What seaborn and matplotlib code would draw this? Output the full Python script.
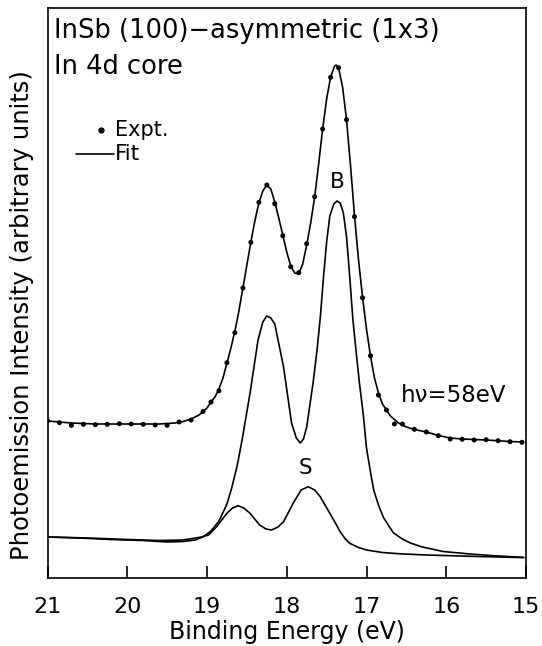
import matplotlib
matplotlib.use("Agg")
import matplotlib.pyplot as plt
import seaborn as sns
import pandas as pd

# ---------------- data ----------------
# experimental points: binding energy (eV) and intensity (arb. units)
expt_E = [21.00, 20.85, 20.70, 20.55, 20.40, 20.25, 20.10, 19.95, 19.80, 19.65,
          19.50, 19.35, 19.20, 19.05, 18.95, 18.85, 18.75, 18.65, 18.55, 18.45,
          18.35, 18.25, 18.15, 18.05, 17.95, 17.85, 17.75, 17.65, 17.55, 17.45,
          17.35, 17.25, 17.15, 17.05, 16.95, 16.85, 16.75, 16.65, 16.55, 16.40,
          16.25, 16.10, 15.95, 15.80, 15.65, 15.50, 15.35, 15.20, 15.05]
expt_I = [157.3, 155.3, 152.7, 153.7, 153.3, 153.7, 154.3, 154.0, 153.7, 153.0,
          152.7, 156.0, 158.0, 166.5, 176.0, 187.3, 215.3, 245.3, 290.0, 335.7,
          375.7, 393.0, 374.3, 342.3, 311.3, 305.3, 334.3, 381.3, 449.0, 500.7,
          510.3, 458.3, 361.3, 280.3, 222.3, 183.0, 168.0, 154.0, 154.0, 148.7,
          146.0, 142.3, 139.0, 138.7, 138.0, 138.3, 137.3, 136.3, 135.7]

# total fit curve
fit_E = [21.0, 20.7, 20.4, 20.0, 19.6, 19.4, 19.3, 19.2, 19.1, 19.0, 18.95, 18.9,
         18.85, 18.8, 18.75, 18.7, 18.65, 18.6, 18.55, 18.5, 18.45, 18.4, 18.35,
         18.3, 18.25, 18.2, 18.15, 18.1, 18.05, 18.0, 17.95, 17.9, 17.85, 17.8,
         17.75, 17.7, 17.65, 17.6, 17.55, 17.5, 17.45, 17.4, 17.38, 17.35, 17.3,
         17.25, 17.2, 17.15, 17.1, 17.05, 17.0, 16.95, 16.9, 16.85, 16.8, 16.7,
         16.6, 16.5, 16.4, 16.25, 16.1, 15.95, 15.8, 15.5, 15.2, 15.04]
fit_I = [157, 155, 154, 154, 154, 155, 156.5, 159, 163, 170, 176, 181,
         189, 200, 215, 230, 247, 267, 290, 313, 336, 357, 375,
         387, 393, 389, 376, 360, 343, 326, 312, 305, 304, 314,
         333, 355, 381, 414, 449, 479, 501, 512, 513, 510, 491,
         458, 412, 362, 318, 281, 249, 222, 200, 185, 174, 162,
         155, 151, 148.5, 146, 142.5, 140, 139, 138, 136.5, 136]

# bulk component (B) + background
bulk_E = [21.0, 20.6, 20.2, 19.8, 19.5, 19.3, 19.15, 19.05, 18.95, 18.85, 18.75,
          18.69, 18.62, 18.56, 18.46, 18.36, 18.30, 18.25, 18.20, 18.15, 18.04,
          17.94, 17.88, 17.83, 17.79, 17.75, 17.67, 17.62, 17.58, 17.54, 17.50,
          17.46, 17.41, 17.37, 17.33, 17.29, 17.25, 17.21, 17.17, 17.13, 17.09,
          17.04, 17.00, 16.95, 16.91, 16.85, 16.79, 16.72, 16.66, 16.55, 16.45,
          16.30, 16.04, 15.70, 15.41, 15.03]
bulk_I = [41, 40, 38.5, 37.5, 36, 36.5, 38, 41, 47, 57, 74,
          90, 113, 138, 185, 238, 256, 262, 260, 254, 211,
          155, 140, 135, 139, 151, 195, 228, 260, 300, 336,
          362, 374, 377, 375, 365, 341, 301, 258, 226, 196,
          163, 130, 106, 88, 73, 61, 52, 45, 39, 35,
          31, 26.5, 24, 22.3, 20.6]

# surface component (S) + background
surf_E = [21.0, 20.5, 20.0, 19.6, 19.30, 19.09, 18.98, 18.88, 18.75, 18.68,
          18.61, 18.54, 18.46, 18.34, 18.26, 18.19, 18.11, 18.04, 17.92, 17.82,
          17.73, 17.65, 17.58, 17.46, 17.39, 17.33, 17.27, 17.21, 17.10, 17.00,
          16.80, 16.58, 16.25, 15.60, 15.03]
surf_I = [41, 40, 38.5, 37.5, 38, 40.7, 43, 51.3, 64.7, 70,
          72.3, 70, 64.7, 53, 49, 48, 51, 56.3, 74.7, 88,
          91.3, 88, 81.3, 64.7, 55, 46.3, 39.5, 34.7, 30.5, 28,
          25.5, 24.2, 23.0, 21.5, 20.4]

x_ticks = [21, 20, 19, 18, 17, 16, 15]
x_tick_labels = ["21", "20", "19", "18", "17", "16", "15"]

# ---------------- figure ----------------
sns.set_theme(style="white")
plt.rcParams["font.family"] = ["DejaVu Sans"]
plt.rcParams["text.color"] = "black"
plt.rcParams["axes.labelcolor"] = "black"
plt.rcParams["xtick.color"] = "black"

fig = plt.figure(figsize=(5.42, 6.46), dpi=100)
ax = fig.add_axes([47.5 / 542, 68 / 646, 478.5 / 542, 570 / 646])

df_expt = pd.DataFrame({"E": expt_E, "I": expt_I})
df_fit = pd.DataFrame({"E": fit_E, "I": fit_I})
df_bulk = pd.DataFrame({"E": bulk_E, "I": bulk_I})
df_surf = pd.DataFrame({"E": surf_E, "I": surf_I})

lw = 1.2
for d in (df_fit, df_bulk, df_surf):
    sns.lineplot(data=d, x="E", y="I", ax=ax, color="black", lw=lw,
                 estimator=None, sort=False)
sns.scatterplot(data=df_expt, x="E", y="I", ax=ax, color="black", s=13,
                edgecolor="none", zorder=5)

ax.set_xlim(21, 15)
ax.set_ylim(0, 570)
ax.set_xticks(x_ticks)
ax.set_xticklabels(x_tick_labels, fontsize=16, color="black")
ax.set_yticks([])
ax.tick_params(axis="x", direction="in", length=9, width=1.2, pad=14,
               colors="black", bottom=True)
for sp in ax.spines.values():
    sp.set_color("black")
    sp.set_linewidth(1.2)

ax.set_xlabel("Binding Energy (eV)", fontsize=17, labelpad=2, color="black")
ax.set_ylabel("Photoemission Intensity (arbitrary units)", fontsize=17.5,
              color="black")

def fx(px):
    return (px - 47.5) / 478.5

def fy(py):
    return (578 - py) / 570

ax.yaxis.set_label_coords(fx(34), fy(315))

tf = ax.transAxes
ax.text(fx(54), fy(31), "InSb (100)\u2212asymmetric (1x3)", transform=tf,
        fontsize=18.5, ha="left", va="center")
ax.text(fx(54), fy(67), "In 4d core", transform=tf, fontsize=18.5,
        ha="left", va="center")
ax.plot([fx(100.5)], [fy(130)], "o", color="black", ms=3.5, transform=tf)
ax.text(fx(115), fy(130), "Expt.", transform=tf, fontsize=15,
        ha="left", va="center")
ax.plot([fx(75.5), fx(114)], [fy(154), fy(154)], color="black", lw=lw,
        transform=tf)
ax.text(fx(115), fy(154), "Fit", transform=tf, fontsize=15.5,
        ha="left", va="center")
ax.text(fx(401), fy(395), "h\u03bd=58eV", transform=tf, fontsize=16.5,
        ha="left", va="center")
ax.text(17.37, 396, "B", fontsize=15.5, ha="center", va="center")
ax.text(17.76, 110, "S", fontsize=15.5, ha="center", va="center")

fig.savefig("out.png", dpi=100)
